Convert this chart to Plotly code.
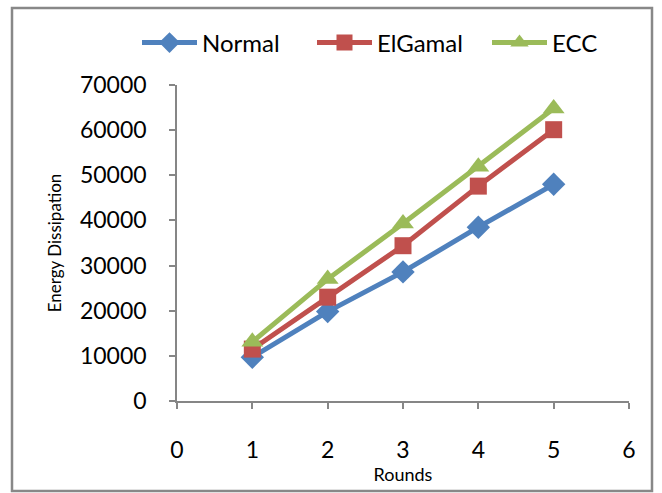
import plotly.graph_objects as go

rounds = [1, 2, 3, 4, 5]
normal = [9700, 19800, 28600, 38500, 48000]
elgamal = [11500, 23000, 34400, 47600, 60100]
ecc = [13100, 27000, 39300, 51900, 64800]

series_names = ["Normal", "ElGamal", "ECC"]
series_values = [normal, elgamal, ecc]
colors = ["#4F81BD", "#C0504D", "#9BBB59"]
symbols = ["diamond", "square", "triangle-up"]
sizes = [18, 17, 19]

FONT = "Lato"
AX = "#868686"

fig = go.Figure()
for name, vals, c, s, sz in zip(series_names, series_values, colors, symbols, sizes):
    fig.add_trace(go.Scatter(
        x=rounds, y=vals, name=name, mode="lines+markers",
        line=dict(color=c, width=5),
        marker=dict(symbol=s, size=sz, color=c, line=dict(width=0)),
    ))

L, R, T, B = 177, 33, 85, 92
W, H = 662, 493
pw, ph = W - L - R, H - T - B

fig.update_layout(
    width=W, height=H,
    margin=dict(l=L, r=R, t=T, b=B),
    paper_bgcolor="white", plot_bgcolor="white",
    font=dict(family=FONT, color="black"),
    showlegend=True,
    legend=dict(orientation="h", x=(146 - L) / pw, xanchor="left", y=1.0 + (85 - 43) / ph,
                yanchor="middle", font=dict(size=24, family=FONT),
                itemwidth=55, entrywidth=105, entrywidthmode="pixels",
                bgcolor="rgba(0,0,0,0)"),
    xaxis=dict(range=[0, 6], dtick=1, tick0=0, showgrid=False, zeroline=False,
               showline=True, linecolor=AX, linewidth=1.5,
               ticks="outside", ticklen=6, tickcolor=AX, tickwidth=1.5,
               tickfont=dict(size=23, family=FONT), ticklabelstandoff=22,
               title=dict(text="Rounds", font=dict(size=18, family=FONT), standoff=6)),
    yaxis=dict(range=[0, 70000], dtick=10000, tickformat="d", showgrid=False, zeroline=False,
               showline=True, linecolor=AX, linewidth=1.5,
               ticks="outside", ticklen=6, tickcolor=AX, tickwidth=1.5,
               tickfont=dict(size=23, family=FONT), ticklabelstandoff=18,
               title=dict(text="Energy Dissipation", font=dict(size=17, family=FONT), standoff=14)),
    shapes=[dict(type="rect", xref="paper", yref="paper",
                 x0=(12 - L) / pw, x1=(652 - L) / pw,
                 y0=(H - T - (H + 5)) / ph, y1=(H - B - 8) / ph,
                 line=dict(color="#888888", width=2.5), fillcolor="rgba(0,0,0,0)", layer="below")],
)

fig.write_html("out.html")
